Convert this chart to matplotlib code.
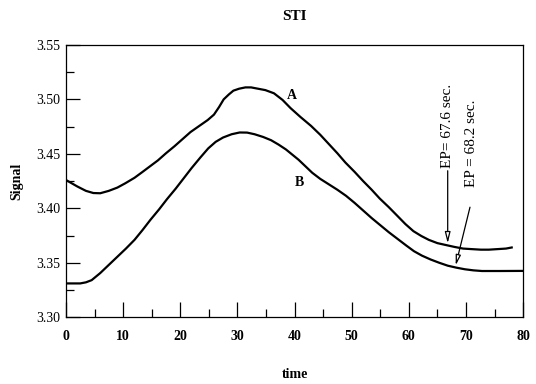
import numpy as np
import matplotlib.pyplot as plt
from matplotlib.ticker import MultipleLocator, FormatStrFormatter

# curve A and curve B
time_a = [0, 1, 2, 3.5, 4.8, 6, 7.5, 9, 10.4, 12, 13.3, 14.7, 16.1, 17.5, 19,
          20.4, 21.8, 23.3, 24.8, 25.9, 26.8, 27.6, 28.5, 29.3, 30.3, 31.4,
          32.4, 33.4, 34.9, 36.4, 37.9, 39.3, 41, 42.9, 44.5, 46, 47.5, 48.9,
          50.5, 52, 53.5, 54.9, 56.5, 58, 59.4, 60.8, 62.2, 63.5, 65, 66.7,
          68, 69.5, 71, 72.6, 74, 75.5, 77, 78]
signal_a = [3.426, 3.423, 3.420, 3.416, 3.414, 3.4138, 3.416, 3.419, 3.423,
            3.428, 3.433, 3.4385, 3.444, 3.4505, 3.457, 3.4635, 3.470, 3.4755,
            3.481, 3.486, 3.493, 3.500, 3.5045, 3.508, 3.5098, 3.511, 3.511,
            3.510, 3.5085, 3.5056, 3.4995, 3.492, 3.484, 3.4756, 3.4675,
            3.459, 3.4505, 3.442, 3.4335, 3.425, 3.417, 3.409, 3.401, 3.393,
            3.3855, 3.379, 3.3745, 3.371, 3.368, 3.366, 3.3645, 3.363, 3.3625,
            3.362, 3.362, 3.3625, 3.363, 3.364]

time_b = [0, 1.5, 2.5, 3.5, 4.5, 6, 7.7, 9, 10.5, 12, 13.4, 14.8, 16.3, 17.7,
          19.2, 20.6, 22, 23.5, 24.9, 26.2, 27.5, 29, 30.4, 31.7, 33, 34.5,
          35.9, 37.2, 38.5, 40.7, 43.1, 44.5, 46, 47.5, 49, 50.5, 52, 53.5,
          55, 56.5, 58, 59.5, 60.9, 62.3, 63.8, 65.3, 66.8, 68.3, 69.8, 71.3,
          72.8, 76, 80]
signal_b = [3.331, 3.331, 3.331, 3.332, 3.334, 3.3405, 3.349, 3.3555, 3.363,
            3.371, 3.380, 3.3895, 3.399, 3.4085, 3.418, 3.4275, 3.437, 3.4465,
            3.455, 3.461, 3.465, 3.468, 3.4696, 3.4695, 3.468, 3.4655, 3.4625,
            3.4585, 3.454, 3.4446, 3.4326, 3.427, 3.422, 3.417, 3.4115, 3.405,
            3.398, 3.391, 3.3845, 3.378, 3.372, 3.366, 3.3606, 3.3565, 3.353,
            3.350, 3.3473, 3.3455, 3.344, 3.343, 3.3424, 3.3424, 3.3425]

ep_a = 67.6
ep_b = 68.2

plt.rcParams['font.family'] = ['Liberation Serif', 'DejaVu Serif']

fig = plt.figure(figsize=(5.36, 3.84), dpi=100)
ax = fig.add_axes([0.123, 0.174, 0.853, 0.709])

ax.plot(time_a, signal_a, color='black', lw=1.6)
ax.plot(time_b, signal_b, color='black', lw=1.6)

ax.text(38.7, 3.504, 'A', fontsize=10, fontweight='bold', ha='left', va='center')
ax.text(40, 3.424, 'B', fontsize=10, fontweight='bold', ha='left', va='center')

# end point annotations
ya = np.interp(66.8, time_a, signal_a)
yb = np.interp(ep_b, time_b, signal_b)
ax.annotate('EP= %.1f sec.' % ep_a, xy=(66.8, ya + 0.002), xytext=(66.8, 3.437),
            rotation=90, fontsize=11, ha='center', va='bottom',
            arrowprops=dict(arrowstyle='-|>,head_length=0.6,head_width=0.15',
                            fc='white', ec='black', lw=0.9,
                            shrinkA=0, shrinkB=0))
ax.annotate('', xy=(ep_b, yb + 0.002), xytext=(70.7, 3.401),
            arrowprops=dict(arrowstyle='-|>,head_length=0.6,head_width=0.15',
                            fc='white', ec='black', lw=0.9,
                            shrinkA=0, shrinkB=0))
ax.text(71.0, 3.42, 'EP = %.1f sec.' % ep_b, rotation=90, fontsize=11,
        ha='center', va='bottom')

ax.set_xlim(0, 80)
ax.set_ylim(3.30, 3.55)
ax.xaxis.set_major_locator(MultipleLocator(10))
ax.xaxis.set_minor_locator(MultipleLocator(5))
ax.yaxis.set_major_locator(MultipleLocator(0.05))
ax.yaxis.set_minor_locator(MultipleLocator(0.025))
ax.yaxis.set_major_formatter(FormatStrFormatter('%.2f'))
ax.tick_params(which='both', direction='in', top=False, right=False, width=0.9)
ax.tick_params(axis='x', which='major', length=11, pad=9, labelsize=10)
ax.tick_params(axis='x', which='minor', length=6)
ax.tick_params(axis='y', which='major', length=10, pad=4, labelsize=10)
ax.tick_params(axis='y', which='minor', length=6)
for lab in ax.get_xticklabels():
    lab.set_fontweight('bold')
for s in ax.spines.values():
    s.set_linewidth(0.9)

ax.set_xlabel('time', fontsize=10, fontweight='bold', labelpad=18)
ax.set_ylabel('Signal', fontsize=10, fontweight='bold', labelpad=9)
ax.set_title('STI', fontsize=11, fontweight='bold', pad=18)

fig.savefig('out.png', dpi=100)
